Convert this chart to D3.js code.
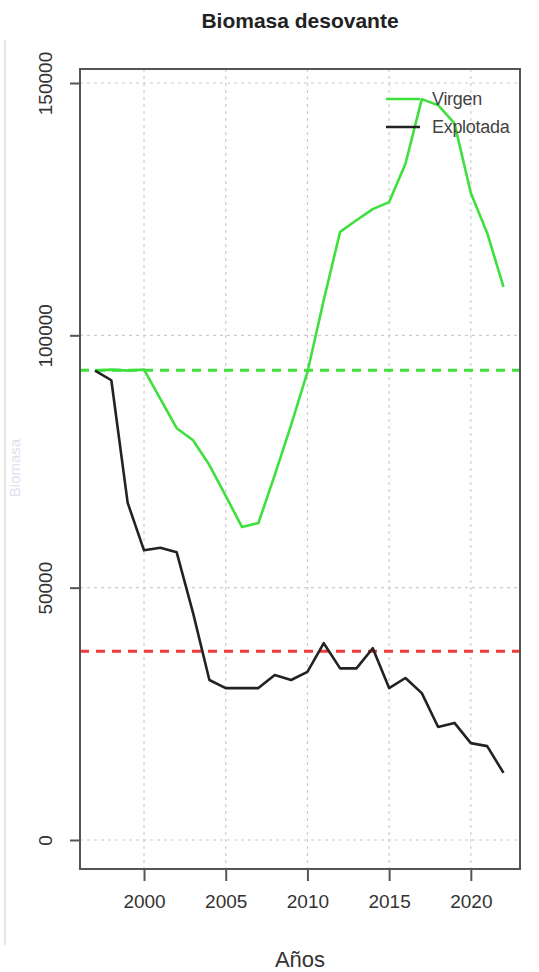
<!DOCTYPE html>
<html>
<head>
<meta charset="utf-8">
<script src="https://cdn.jsdelivr.net/npm/d3@7"></script>
<style>
  body { margin: 0; background: #fff; }
  svg { display: block; font-family: "Liberation Sans", Arial, sans-serif; }
</style>
</head>
<body>
<div id="chart"></div>
<script>
// Biomasa desovante: virgen vs explotada

const years = d3.range(1997, 2023);
const virgen = [93000, 93200, 93000, 93200, 87400, 81600, 79200, 74300, 68200, 62000,
  62800, 72300, 82200, 92700, 107000, 120500, 122800, 125000, 126400, 134000,
  146800, 145600, 142000, 128200, 120300, 109600];
const explotada = [93000, 91100, 66800, 57400, 57900, 57000, 45000, 31700, 30100, 30100,
  30100, 32700, 31700, 33300, 39000, 34000, 34000, 38000, 30100, 32100,
  29100, 22400, 23200, 19200, 18600, 13300];
const refVirgen = 93100;
const refLimite = 37400;
const xTicks = [2000, 2005, 2010, 2015, 2020];
const yTicks = [0, 50000, 100000, 150000];
const legendItems = [{ name: 'Virgen', color: '#3ee03e' }, { name: 'Explotada', color: '#222' }];

const W = 539, H = 972;
const box = { left: 80, right: 520, top: 69, bottom: 869 };

const svg = d3.select('#chart').append('svg')
  .attr('width', W)
  .attr('height', H);

// restos del panel vecino a la izquierda
svg.append('line')
  .attr('x1', 5).attr('x2', 5).attr('y1', 40).attr('y2', 945)
  .attr('stroke', '#ddd').attr('stroke-width', 1.5);
svg.append('text')
  .attr('transform', 'translate(20,468) rotate(-90)')
  .attr('text-anchor', 'middle')
  .attr('fill', '#b9c6e0')
  .attr('opacity', 0.5)
  .style('font-size', '15px')
  .text('Biomasa');

// Escalas
const x = d3.scaleLinear().domain([1997, 2022]).range([95, 503.5]);
const y = d3.scaleLinear().domain([0, 150000]).range([840, 83]);

// Rejilla punteada
svg.append('g').selectAll('line.gx')
  .data(xTicks).enter().append('line')
  .attr('x1', d => x(d)).attr('x2', d => x(d))
  .attr('y1', box.top).attr('y2', box.bottom)
  .attr('stroke', '#ccc').attr('stroke-width', 1.2)
  .attr('stroke-dasharray', '3,4');

svg.append('g').selectAll('line.gy')
  .data(yTicks).enter().append('line')
  .attr('x1', box.left).attr('x2', box.right)
  .attr('y1', d => y(d)).attr('y2', d => y(d))
  .attr('stroke', '#ccc').attr('stroke-width', 1.2)
  .attr('stroke-dasharray', '3,4');

// Líneas de referencia
svg.append('line')
  .attr('x1', box.left).attr('x2', box.right)
  .attr('y1', y(refVirgen)).attr('y2', y(refVirgen))
  .attr('stroke', '#3ee03e').attr('stroke-width', 3)
  .attr('stroke-dasharray', '9,7');

svg.append('line')
  .attr('x1', box.left).attr('x2', box.right)
  .attr('y1', y(refLimite)).attr('y2', y(refLimite))
  .attr('stroke', '#ee3a3a').attr('stroke-width', 3)
  .attr('stroke-dasharray', '9,7');

// Series
const line = d3.line()
  .x((d, i) => x(years[i]))
  .y(d => y(d));

svg.append('path')
  .datum(virgen)
  .attr('fill', 'none')
  .attr('stroke', '#3ee03e')
  .attr('stroke-width', 2.6)
  .attr('stroke-linejoin', 'round')
  .attr('d', line);

svg.append('path')
  .datum(explotada)
  .attr('fill', 'none')
  .attr('stroke', '#222')
  .attr('stroke-width', 2.6)
  .attr('stroke-linejoin', 'round')
  .attr('d', line);

// Caja
svg.append('rect')
  .attr('x', box.left).attr('y', box.top)
  .attr('width', box.right - box.left)
  .attr('height', box.bottom - box.top)
  .attr('fill', 'none')
  .attr('stroke', '#555')
  .attr('stroke-width', 2);

// Eje X
const xAxis = svg.append('g')
  .attr('transform', `translate(0,${box.bottom})`)
  .call(d3.axisBottom(x).tickValues(xTicks).tickSize(12).tickPadding(14).tickFormat(d3.format('d')));
xAxis.select('.domain').remove();
xAxis.selectAll('line').attr('stroke', '#555').attr('stroke-width', 2);
xAxis.selectAll('text').attr('fill', '#333').style('font-size', '19px');

// Eje Y
const yAxis = svg.append('g')
  .attr('transform', `translate(${box.left},0)`)
  .call(d3.axisLeft(y).tickValues(yTicks).tickSize(10).tickFormat(d3.format('d')));
yAxis.select('.domain').remove();
yAxis.selectAll('line').attr('stroke', '#555').attr('stroke-width', 2);
yAxis.selectAll('text')
  .attr('fill', '#333')
  .style('font-size', '19px')
  .attr('text-anchor', 'middle')
  .attr('x', 0).attr('dy', 0)
  .attr('transform', 'translate(-28,0) rotate(-90)')
  .attr('y', 0);

// Título
svg.append('text')
  .attr('x', (box.left + box.right) / 2)
  .attr('y', 28)
  .attr('text-anchor', 'middle')
  .attr('fill', '#222')
  .style('font-size', '21px')
  .style('font-weight', 'bold')
  .text('Biomasa desovante');

svg.append('text')
  .attr('x', (box.left + box.right) / 2)
  .attr('y', 967)
  .attr('text-anchor', 'middle')
  .attr('fill', '#333')
  .style('font-size', '22px')
  .text('Años');

// Leyenda
const legend = svg.append('g').attr('transform', 'translate(386,99)');
legendItems.forEach((item, i) => {
  legend.append('line')
    .attr('x1', 0).attr('x2', 34)
    .attr('y1', i * 28).attr('y2', i * 28)
    .attr('stroke', item.color).attr('stroke-width', 2.6);
  legend.append('text')
    .attr('x', 46)
    .attr('y', i * 28 + 6)
    .attr('fill', '#444')
    .style('font-size', '18px')
    .style('letter-spacing', '-0.3px')
    .text(item.name);
});
</script>
</body>
</html>
